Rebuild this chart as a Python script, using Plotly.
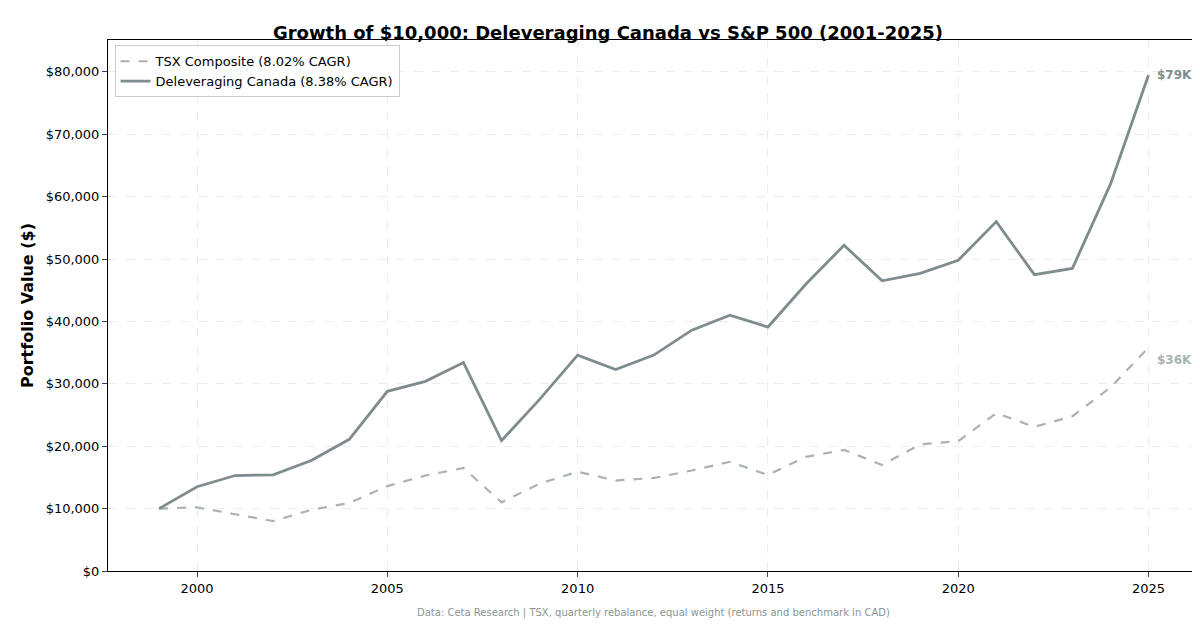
import plotly.graph_objects as go

years = list(range(1999, 2026))
delev = [10000, 13500, 15300, 15400, 17700, 21100, 28800, 30400, 33400, 20900,
         27500, 34600, 32300, 34600, 38600, 41000, 39100, 46000, 52200, 46500,
         47700, 49800, 56000, 47500, 48500, 62000, 79500]
tsx = [10000, 10200, 9100, 8000, 9800, 10900, 13600, 15300, 16500, 11000,
       14000, 15900, 14500, 14900, 16100, 17500, 15400, 18300, 19400, 17000,
       20300, 20800, 25300, 23100, 24800, 29400, 35800]

C_DEL = "#7f8c8d"
C_TSX = "#a9b3b1"
FONT = "DejaVu Sans"

fig = go.Figure()
fig.add_trace(go.Scatter(x=years, y=tsx, mode="lines", name="TSX Composite (8.02% CAGR)",
                         line=dict(color=C_TSX, width=2.2, dash="dash")))
fig.add_trace(go.Scatter(x=years, y=delev, mode="lines", name="Deleveraging Canada (8.38% CAGR)",
                         line=dict(color=C_DEL, width=2.8)))

fig.add_annotation(x=years[-1], y=delev[-1], text="<b>$79K</b>", showarrow=False,
                   xanchor="left", xshift=6, font=dict(color=C_DEL, size=12))
fig.add_annotation(x=years[-1], y=tsx[-1], text="<b>$36K</b>", showarrow=False,
                   xanchor="left", xshift=6, yshift=-12, font=dict(color=C_TSX, size=12))

fig.add_annotation(text="Data: Ceta Research | TSX, quarterly rebalance, equal weight (returns and benchmark in CAD)",
                   xref="paper", yref="paper", x=0.5, y=-0.095, showarrow=False,
                   font=dict(size=10, color="#8a9494"))

fig.update_layout(
    width=1200, height=627,
    title=dict(text="<b>Growth of $10,000: Deleveraging Canada vs S&P 500 (2001-2025)</b>",
               x=0.5, xanchor="center", yref="container", y=0.97, yanchor="top",
               automargin=False, font=dict(size=18, color="black")),
    font=dict(family=FONT, size=13, color="black"),
    plot_bgcolor="white", paper_bgcolor="white",
    margin=dict(l=100, r=10, t=32, b=64, autoexpand=False),
    legend=dict(x=0.006, y=0.99, bgcolor="rgba(255,255,255,0.9)", bordercolor="#cccccc",
                borderwidth=1, font=dict(size=13)),
)
fig.update_xaxes(range=[1997.66, 2026.3], tickvals=[2000, 2005, 2010, 2015, 2020, 2025],
                 showgrid=True, gridcolor="#ececec", griddash="dash", showline=True,
                 linecolor="black", mirror=True, ticks="outside", zeroline=False,
                 automargin=False, tickfont=dict(size=13))
fig.update_yaxes(range=[0, 85100], tickvals=list(range(0, 80001, 10000)),
                 tickformat="$,.0f", showgrid=True, gridcolor="#ececec", griddash="dash",
                 showline=True, linecolor="black", mirror=True, ticks="outside", zeroline=False,
                 automargin=False, tickfont=dict(size=13),
                 title=dict(text="<b>Portfolio Value ($)</b>", font=dict(size=16), standoff=8))

fig.write_html("out.html")
